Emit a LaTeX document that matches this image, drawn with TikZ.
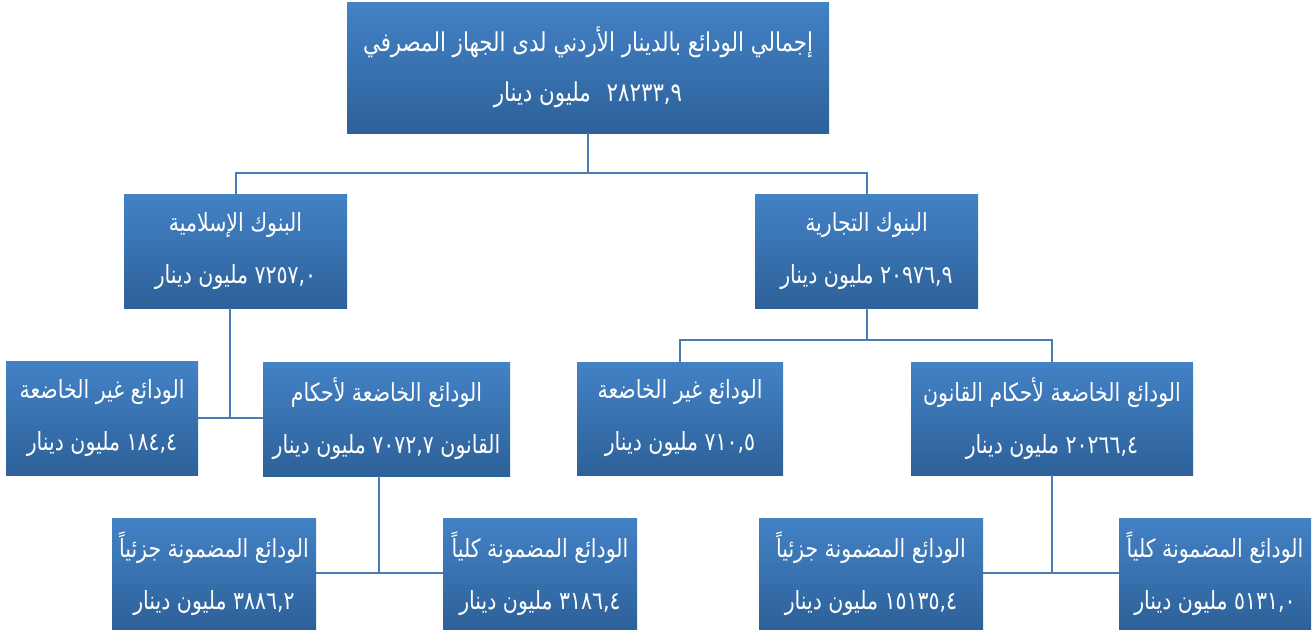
\documentclass[tikz,border=0pt]{standalone}
\usepackage{fontspec}
\newfontfamily\arabicfont[Script=Arabic,FakeStretch=0.82]{DejaVu Sans}
\TeXXeTstate=1
\definecolor{boxtop}{HTML}{4382C6}
\definecolor{boxbot}{HTML}{2D6199}
\definecolor{linec}{HTML}{4A7DB8}
\newcommand{\rl}[1]{\beginR #1\endR}
\tikzset{
  box/.style={rectangle, inner sep=0pt, top color=boxtop, bottom color=boxbot,
    text=white, align=center, font=\arabicfont\fontsize{25}{52}\selectfont},
  bigbox/.style={box, font=\arabicfont\fontsize{26}{50}\selectfont},
  conn/.style={draw=linec, line width=2pt},
}
\begin{document}
\begin{tikzpicture}[x=1pt,y=-1pt]
\useasboundingbox (0,0) rectangle (1314,629);
% nodes
\node[bigbox, minimum width=482pt, minimum height=131pt] (top) at (588,67.5)
  {\rl{إجمالي الودائع بالدينار الأردني لدى الجهاز المصرفي}\\\rl{٢٨٢٣٣,٩\hspace{0.35em} مليون دينار}};
\node[box, minimum width=223pt, minimum height=114pt] (isl) at (235.5,251)
  {\rl{البنوك الإسلامية}\\\rl{٧٢٥٧,٠ مليون دينار}};
\node[box, minimum width=223pt, minimum height=114pt] (com) at (866.5,251)
  {\rl{البنوك التجارية}\\\rl{٢٠٩٧٦,٩ مليون دينار}};
\node[box, minimum width=192pt, minimum height=114pt] (islnon) at (102,418)
  {\rl{الودائع غير الخاضعة}\\\rl{١٨٤,٤ مليون دينار}};
\node[box, minimum width=247pt, minimum height=114pt] (islsub) at (386.5,419)
  {\rl{الودائع الخاضعة لأحكام}\\\rl{القانون ٧٠٧٢,٧ مليون دينار}};
\node[box, minimum width=206pt, minimum height=113pt] (comnon) at (680,418.5)
  {\rl{الودائع غير الخاضعة}\\\rl{٧١٠,٥ مليون دينار}};
\node[box, minimum width=282pt, minimum height=113pt] (comsub) at (1052,418.5)
  {\rl{الودائع الخاضعة لأحكام القانون}\\\rl{٢٠٢٦٦,٤ مليون دينار}};
\node[box, minimum width=204pt, minimum height=111pt] (islpar) at (214,573.5)
  {\rl{الودائع المضمونة جزئياً}\\\rl{٣٨٨٦,٢ مليون دينار}};
\node[box, minimum width=194pt, minimum height=111pt] (islful) at (540,573.5)
  {\rl{الودائع المضمونة كلياً}\\\rl{٣١٨٦,٤ مليون دينار}};
\node[box, minimum width=224pt, minimum height=111pt] (compar) at (871,573.5)
  {\rl{الودائع المضمونة جزئياً}\\\rl{١٥١٣٥,٤ مليون دينار}};
\node[box, minimum width=192pt, minimum height=111pt] (comful) at (1215,573.5)
  {\rl{الودائع المضمونة كلياً}\\\rl{٥١٣١,٠ مليون دينار}};
% junctions
\coordinate (tj) at (588,173);
\coordinate (ij) at (230,418);
\coordinate (cj) at (866.5,340);
\coordinate (isj) at (379,573);
\coordinate (csj) at (1052,573);
% connectors
\draw[conn] (top.south) -- (tj);
\draw[conn] (isl.north) |- (tj) -| (com.north);
\draw[conn] (isl.south -| ij) -- (ij);
\draw[conn] (islnon.east |- ij) -- (islsub.west |- ij);
\draw[conn] (com.south) -- (cj);
\draw[conn] (comnon.north) |- (cj) -| (comsub.north);
\draw[conn] (islsub.south -| isj) -- (isj);
\draw[conn] (islpar.east |- isj) -- (islful.west |- isj);
\draw[conn] (comsub.south) -- (csj);
\draw[conn] (compar.east |- csj) -- (comful.west |- csj);
\end{tikzpicture}
\end{document}
